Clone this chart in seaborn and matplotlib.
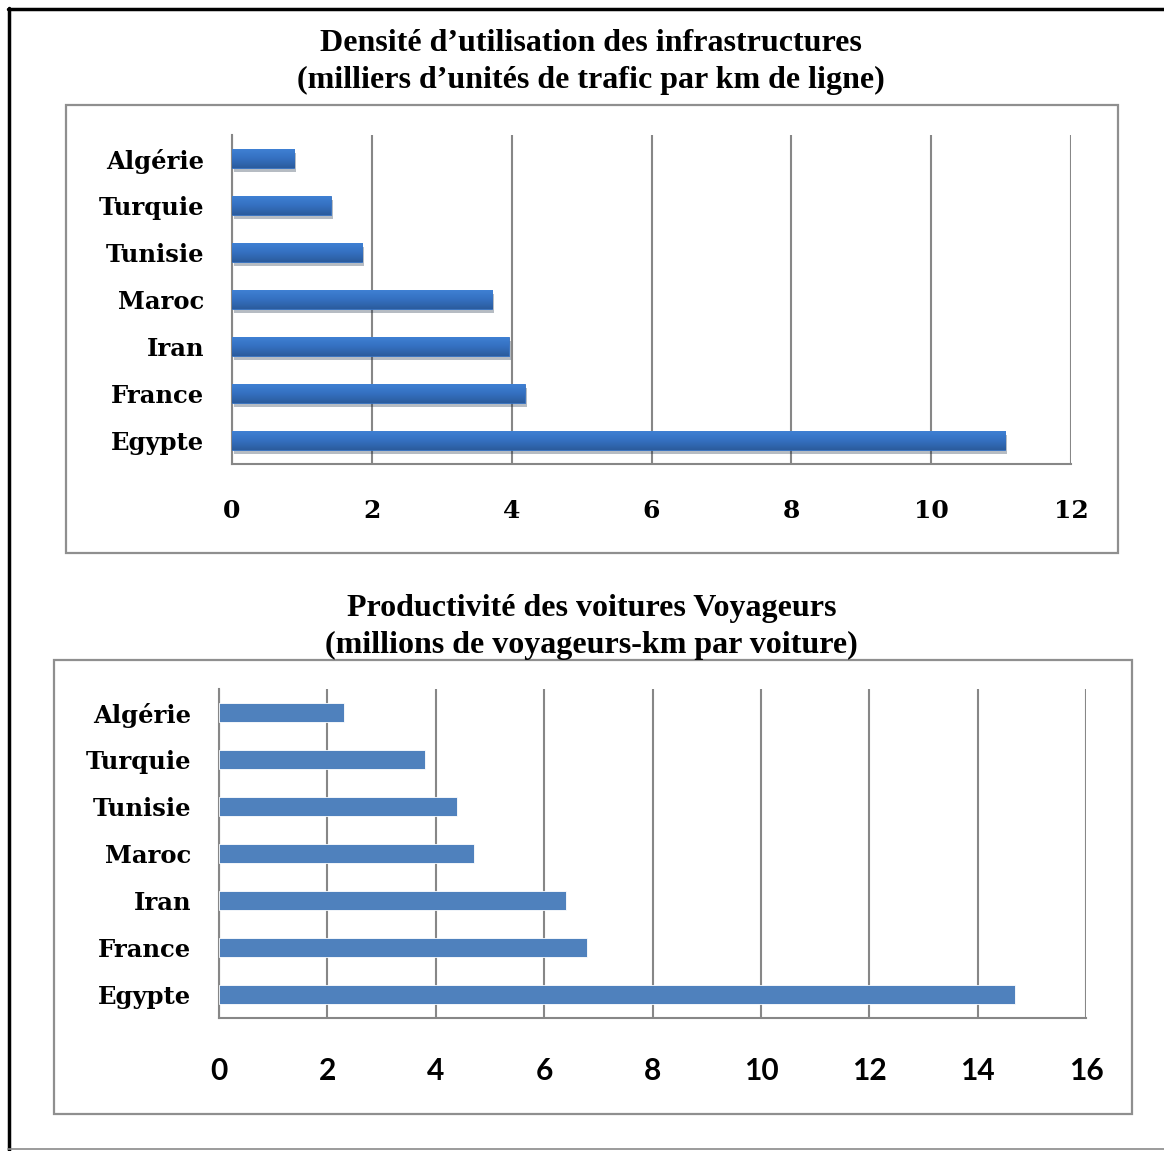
import numpy as np
import pandas as pd
import matplotlib.pyplot as plt
import matplotlib.patheffects as pe
from matplotlib.patches import Rectangle
from matplotlib.lines import Line2D
from matplotlib.colors import LinearSegmentedColormap
import seaborn as sns

# ================= DATA =================
pays = ["Algérie", "Turquie", "Tunisie", "Maroc", "Iran", "France", "Egypte"]
densite = [0.89, 1.41, 1.86, 3.72, 3.96, 4.19, 11.06]
productivite = [2.30, 3.80, 4.40, 4.71, 6.40, 6.79, 14.69]

titre_haut = "Densité d’utilisation des infrastructures\n(milliers d’unités de trafic par km de ligne)"
titre_bas = "Productivité des voitures Voyageurs\n(millions de voyageurs-km par voiture)"

df_haut = pd.DataFrame({"pays": pays, "valeur": densite})
df_bas = pd.DataFrame({"pays": pays, "valeur": productivite})

# ================= STYLE =================
sns.set_style("white")
plt.rcParams["font.family"] = ["DejaVu Serif"]
plt.rcParams["text.color"] = "black"
plt.rcParams["xtick.color"] = "black"
plt.rcParams["ytick.color"] = "black"

W, H = 1164, 1151
fig = plt.figure(figsize=(W / 100, H / 100), dpi=100)

GRIS = "#878787"
degrade = LinearSegmentedColormap.from_list("bleu", ["#3f80d3", "#3470c0", "#2b5c9d"])


def fx(px):
    return px / W


def fy(py):
    return 1 - py / H


def panneau(df, box, plot, xmax, couleur, titre, titre_y, xfont, xpad, ombre):
    # cadre gris autour du graphique
    x0, y0, x1, y1 = box
    fig.patches.append(Rectangle((fx(x0), fy(y1)), fx(x1 - x0), (y1 - y0) / H,
                                 transform=fig.transFigure, fill=False,
                                 edgecolor="#8f8f8f", linewidth=1.6))
    fig.text(0.508, fy(titre_y), titre, ha="center", va="center",
             fontsize=23, fontweight="bold", family="Liberation Serif",
             linespacing=1.33, color="black")

    l, t, r, b = plot
    ax = fig.add_axes([fx(l), fy(b), fx(r - l), (b - t) / H])
    sns.barplot(data=df, x="valeur", y="pays", orient="h", color=couleur,
                width=0.4, saturation=1, ax=ax, zorder=3,
                edgecolor="white" if not ombre else couleur, linewidth=0.6)

    ax.set_xlim(0, xmax)
    ax.set_ylim(6.5, -0.5)

    if ombre:
        # barres en dégradé avec ombre portée (style Excel)
        grad = np.linspace(0, 1, 64).reshape(-1, 1)
        for p in ax.patches:
            p.set_path_effects([pe.SimplePatchShadow(offset=(1.5, -3), alpha=0.3),
                                pe.Normal()])
            bx, by = p.get_x(), p.get_y()
            bw, bh = p.get_width(), p.get_height()
            im = ax.imshow(grad, cmap=degrade, aspect="auto", origin="upper",
                           extent=(bx, bx + bw, by + bh, by), zorder=4)
            im.set_clip_path(p)
        ax.set_xlim(0, xmax)
        ax.set_ylim(6.5, -0.5)

    ax.set_xticks(np.arange(0, xmax + 1, 2))
    ax.set_xlabel("")
    ax.set_ylabel("")
    ax.grid(axis="x", color=GRIS, linewidth=1.5, zorder=0)
    ax.set_axisbelow(True)

    for s in ["top", "right"]:
        ax.spines[s].set_visible(False)
    for s in ["left", "bottom"]:
        ax.spines[s].set_color(GRIS)
        ax.spines[s].set_linewidth(1.5)

    # graduations de l'axe des catégories entre les barres
    ax.set_yticks(np.arange(-0.5, 7, 1), minor=True)
    ax.tick_params(axis="y", which="major", length=0, pad=20, labelsize=17.5,
                   labelcolor="black")
    ax.tick_params(axis="y", which="minor", length=5, width=1.5, color=GRIS)
    ax.tick_params(axis="x", which="major", length=6, width=1.5, color=GRIS,
                   direction="out", pad=xpad, labelcolor="black")
    for lab in ax.get_yticklabels():
        lab.set_fontweight("bold")
    for lab in ax.get_xticklabels():
        lab.set_fontweight("bold")
        lab.set_family(xfont[0])
        lab.set_fontsize(xfont[1])
    return ax


panneau(df_haut, (66, 105, 1118, 553), (232, 135, 1071, 464), 12, "#3470c0",
        titre_haut, 62, ("DejaVu Serif", 18), 19, True)
panneau(df_bas, (54, 660, 1132, 1114), (219, 689, 1086, 1018), 16, "#4f81bd",
        titre_bas, 627, ("Lato", 21.5), 22, False)

# cadre extérieur de la page
fig.lines.append(Line2D([fx(9), fx(9)], [fy(8), fy(1151)], transform=fig.transFigure,
                        color="black", linewidth=2.5))
fig.lines.append(Line2D([fx(8), 1], [fy(9), fy(9)], transform=fig.transFigure,
                        color="black", linewidth=2.5))
fig.lines.append(Line2D([fx(8), 1], [fy(1149), fy(1149)], transform=fig.transFigure,
                        color="#8a8a8a", linewidth=1.2))

plt.savefig("out.png", dpi=100)
